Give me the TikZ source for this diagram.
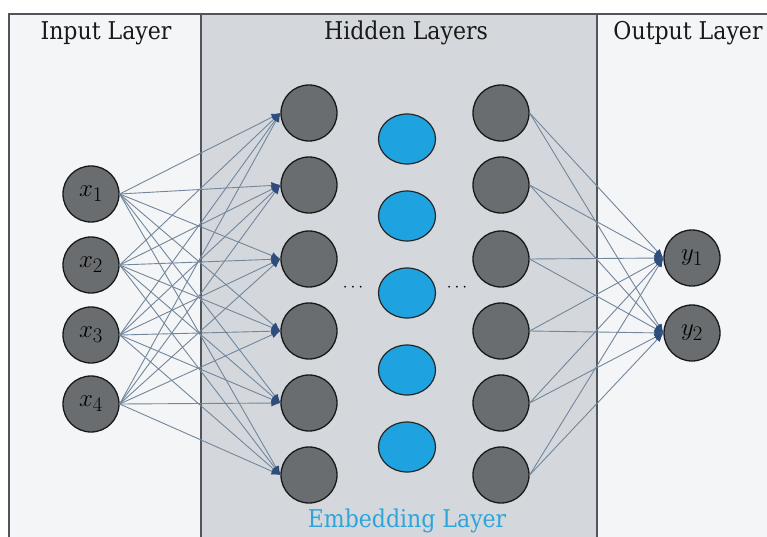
\documentclass[tikz,border=0pt]{standalone}
\usepackage{fontspec}
\setmainfont{DejaVu Serif Condensed}
\usetikzlibrary{shapes.geometric,arrows.meta}

\definecolor{panelgray}{HTML}{F4F5F6}
\definecolor{hiddengray}{HTML}{D4D8DC}
\definecolor{framegray}{HTML}{50555B}
\definecolor{nodegray}{HTML}{6A6D70}
\definecolor{embblue}{HTML}{1FA3E0}
\definecolor{textblue}{HTML}{2CA5DC}
\definecolor{edgegray}{HTML}{72869C}
\definecolor{tipblue}{HTML}{2E4C7C}

\tikzset{
  neuron/.style={circle, draw=black!90, line width=1.3pt, fill=nodegray,
    minimum size=56pt, inner sep=0pt, font=\Huge, text=black},
  embed/.style={ellipse, draw=black!85, line width=1.2pt, fill=embblue,
    minimum width=57pt, minimum height=50pt, inner sep=0pt},
  edge/.style={draw=edgegray, line width=0.9pt,
    -{Latex[length=9pt,width=7pt,color=tipblue]}},
  title/.style={font=\fontsize{24.5}{28}\selectfont, text=black!90},
}

\begin{document}
\begin{tikzpicture}[x=1pt, y=-1pt]
\useasboundingbox (0,0) rectangle (767,537);

% panels
\fill[panelgray] (9,14) rectangle (767,537);
\fill[hiddengray] (201,14) rectangle (597,537);
\draw[framegray, line width=1.5pt] (201,14) -- (201,537);
\draw[framegray, line width=1.5pt] (597,14) -- (597,537);
\draw[framegray, line width=2pt] (9,537) -- (9,14) -- (767,14);

\node[title] (tin) at (106,33) {Input Layer};
\node[title] (thid) at (406,33) {Hidden Layers};
\node[title] (tout) at (688,33) {Output Layer};
\node[title, text=textblue] (temb) at (407,521) {Embedding Layer};

% input layer
\node[neuron] (11) at (91,194) {$x_1$};
\node[neuron] (12) at (91,265) {$x_2$};
\node[neuron] (13) at (91,335) {$x_3$};
\node[neuron] (14) at (91,404) {$x_4$};

% first hidden layer
\node[neuron] (21) at (309,113) {};
\node[neuron] (22) at (309,185) {};
\node[neuron] (23) at (309,259) {};
\node[neuron] (24) at (309,331) {};
\node[neuron] (25) at (309,403) {};
\node[neuron] (26) at (309,475) {};

% embedding layer
\node[embed] (31) at (407,139) {};
\node[embed] (32) at (407,216) {};
\node[embed] (33) at (407,293) {};
\node[embed] (34) at (407,370) {};
\node[embed] (35) at (407,447) {};

\node[font=\LARGE] (d1) at (353,288) {$\cdots$};
\node[font=\LARGE] (d2) at (457,288) {$\cdots$};

% last hidden layer
\node[neuron] (41) at (501,113) {};
\node[neuron] (42) at (501,185) {};
\node[neuron] (43) at (501,259) {};
\node[neuron] (44) at (501,331) {};
\node[neuron] (45) at (501,403) {};
\node[neuron] (46) at (501,475) {};

% output layer
\node[neuron] (51) at (692,258) {$y_1$};
\node[neuron] (52) at (692,333) {$y_2$};

% input -> hidden
\draw[edge] (11.east) -- (21.west);
\draw[edge] (11.east) -- (22.west);
\draw[edge] (11.east) -- (23.west);
\draw[edge] (11.east) -- (24.west);
\draw[edge] (11.east) -- (25.west);
\draw[edge] (11.east) -- (26.west);
\draw[edge] (12.east) -- (21.west);
\draw[edge] (12.east) -- (22.west);
\draw[edge] (12.east) -- (23.west);
\draw[edge] (12.east) -- (24.west);
\draw[edge] (12.east) -- (25.west);
\draw[edge] (12.east) -- (26.west);
\draw[edge] (13.east) -- (21.west);
\draw[edge] (13.east) -- (22.west);
\draw[edge] (13.east) -- (23.west);
\draw[edge] (13.east) -- (24.west);
\draw[edge] (13.east) -- (25.west);
\draw[edge] (13.east) -- (26.west);
\draw[edge] (14.east) -- (21.west);
\draw[edge] (14.east) -- (22.west);
\draw[edge] (14.east) -- (23.west);
\draw[edge] (14.east) -- (24.west);
\draw[edge] (14.east) -- (25.west);
\draw[edge] (14.east) -- (26.west);

% hidden -> output
\draw[edge] (41.east) -- (51.west);
\draw[edge] (41.east) -- (52.west);
\draw[edge] (42.east) -- (51.west);
\draw[edge] (42.east) -- (52.west);
\draw[edge] (43.east) -- (51.west);
\draw[edge] (43.east) -- (52.west);
\draw[edge] (44.east) -- (51.west);
\draw[edge] (44.east) -- (52.west);
\draw[edge] (45.east) -- (51.west);
\draw[edge] (45.east) -- (52.west);
\draw[edge] (46.east) -- (51.west);
\draw[edge] (46.east) -- (52.west);
\end{tikzpicture}
\end{document}
